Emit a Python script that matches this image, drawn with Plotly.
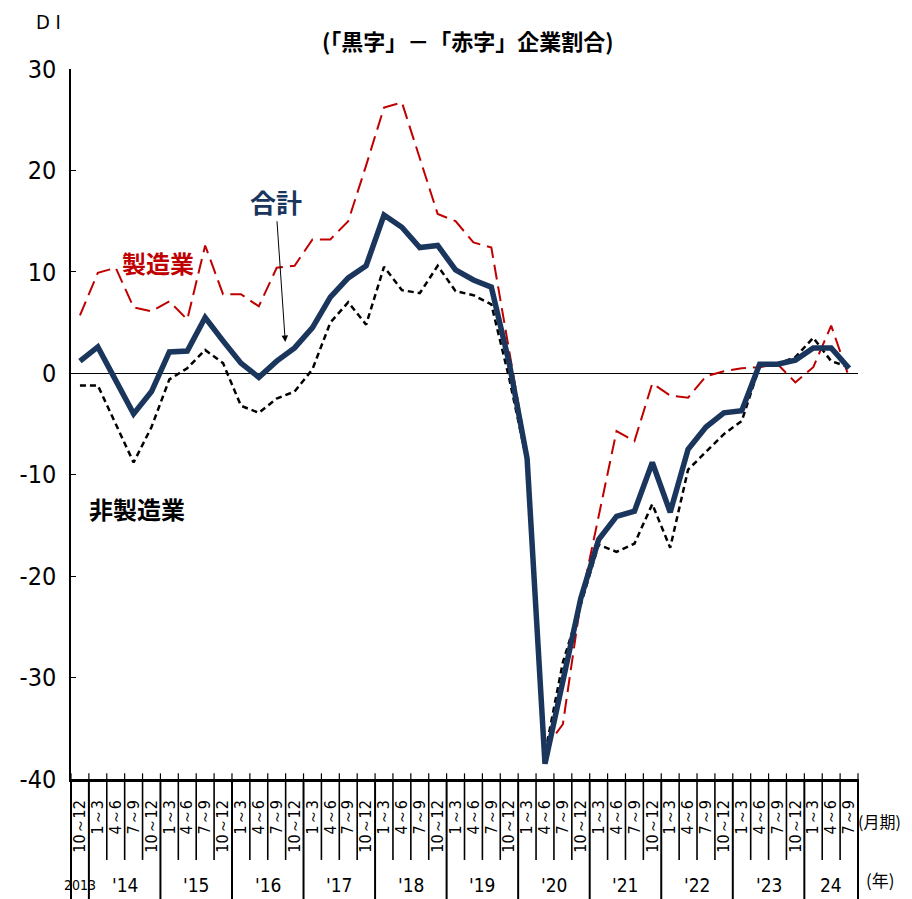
import plotly.graph_objects as go

# ---- data ----
quarters = ["10～12"] + ["1～3", "4～6", "7～9", "10～12"] * 10 + ["1～3", "4～6", "7～9"]
year_labels = ["2013", "'14", "'15", "'16", "'17", "'18", "'19", "'20", "'21", "'22", "'23", "24"]
year_counts = [1, 4, 4, 4, 4, 4, 4, 4, 4, 4, 4, 3]

total = [1.2, 2.6, -0.7, -4.0, -1.8, 2.1, 2.2, 5.5, 3.2, 1.0, -0.4, 1.2, 2.5, 4.5, 7.5,
         9.4, 10.6, 15.6, 14.4, 12.4, 12.6, 10.2, 9.2, 8.5, 1.0, -8.4, -38.5, -30.2,
         -22.2, -16.4, -14.1, -13.6, -8.8, -13.7, -7.5, -5.3, -3.9, -3.7, 0.9, 0.9,
         1.3, 2.5, 2.5, 0.5]
manufacturing = [5.7, 9.9, 10.4, 6.5, 6.1, 7.1, 5.3, 12.6, 7.8, 7.8, 6.6, 10.4, 10.6,
                 13.2, 13.2, 15.0, 20.5, 26.2, 26.7, 21.3, 15.7, 15.0, 12.9, 12.4, 2.0,
                 -8.0, -37.0, -34.6, -22.5, -14.0, -5.7, -6.7, -1.0, -2.2, -2.4, -0.3,
                 0.2, 0.5, 0.6, 0.9, -0.9, 0.6, 4.7, -0.4]
nonmanufacturing = [-1.2, -1.2, -5.0, -8.8, -5.3, -0.6, 0.5, 2.3, 1.0, -3.2, -3.9, -2.5,
                    -1.8, 0.4, 5.0, 7.0, 4.8, 10.5, 8.2, 7.9, 10.6, 8.1, 7.7, 6.8, -0.5,
                    -8.8, -37.5, -28.5, -22.8, -16.9, -17.6, -16.8, -12.9, -17.2, -9.5,
                    -7.8, -6.0, -4.7, 0.7, 0.9, 1.6, 3.5, 1.2, 0.6]
y_ticks = [-40, -30, -20, -10, 0, 10, 20, 30]

NARROW = "Liberation Sans Narrow, DejaVu Sans Condensed, Arial Narrow, Liberation Sans, sans-serif"
CJK = "Noto Sans CJK JP, Noto Sans, sans-serif"
NAVY = "#1B365D"
RED = "#C00000"

x = list(range(len(quarters)))

fig = go.Figure()
fig.add_trace(go.Scatter(x=x, y=nonmanufacturing, mode="lines", name="非製造業",
                         line=dict(color="black", width=2.5, dash="6px,4px")))
fig.add_trace(go.Scatter(x=x, y=manufacturing, mode="lines", name="製造業",
                         line=dict(color=RED, width=2, dash="15px,7px")))
fig.add_trace(go.Scatter(x=x, y=total, mode="lines", name="合計",
                         line=dict(color=NAVY, width=5.5)))

shapes = []
year_bounds = [0]
acc = 0
for c in year_counts:
    acc += c
    year_bounds.append(acc)
n = len(quarters)
for k in range(n + 1):
    is_year = k in year_bounds
    if k == 0 or k == n:
        xref, xv = "paper", (0 if k == 0 else 1)
    else:
        xref, xv = "x", k - 0.5
    shapes.append(dict(type="line", xref=xref, yref="paper", x0=xv, x1=xv, y0=0, y1=0.008,
                       line=dict(color="black", width=1.2)))
    shapes.append(dict(type="line", xref=xref, yref="paper", x0=xv, x1=xv, y0=0,
                       y1=(-0.175 if is_year else -0.114),
                       line=dict(color="black", width=(2 if is_year else 1.6))))

annotations = []
start = 0
for lab, c in zip(year_labels, year_counts):
    center = start + (c - 1) / 2
    annotations.append(dict(text=lab, x=center, xref="x", y=-0.149, yref="paper",
                            showarrow=False, xanchor="center", yanchor="middle",
                            font=dict(family=NARROW, size=(14 if lab == "2013" else 19), color="black")))
    start += c

annotations += [
    dict(text="<b>(「黒字」－「赤字」企業割合)</b>", xref="paper", yref="paper", x=0.504, y=1.041,
         showarrow=False, font=dict(family=CJK, size=22, color="black"), xanchor="center", yanchor="middle"),
    dict(text="D I", xref="paper", yref="paper", x=-0.028, y=1.066, showarrow=False,
         font=dict(family=NARROW, size=20, color="black"), xanchor="center", yanchor="middle"),
    dict(text="(月期)", xref="paper", yref="paper", x=1.0275, y=-0.059, showarrow=False,
         font=dict(family=CJK, size=16, color="black"), xanchor="center", yanchor="middle"),
    dict(text="(年)", xref="paper", yref="paper", x=1.029, y=-0.142, showarrow=False,
         font=dict(family=CJK, size=17, color="black"), xanchor="center", yanchor="middle"),
    dict(text="<b>製造業</b>", x=4.39, y=10.95, xref="x", yref="y", showarrow=False,
         font=dict(family=CJK, size=24, color=RED)),
    dict(text="<b>非製造業</b>", x=3.17, y=-13.3, xref="x", yref="y", showarrow=False,
         font=dict(family=CJK, size=24, color="black")),
    dict(text="<b>合計</b>", x=11.48, y=3.09, xref="x", yref="y",
         ax=10.94, ay=16.96, axref="x", ayref="y", showarrow=True,
         arrowhead=2, arrowsize=1.3, arrowwidth=1, arrowcolor="black", standoff=0,
         font=dict(family=CJK, size=26, color=NAVY)),
]

# the page body adds an 8px offset; size/margins compensate so the plot area lands at 66..858 x 69..779
fig.update_layout(
    width=904, height=891, autosize=False,
    margin=dict(l=58, r=54, t=61, b=120),
    paper_bgcolor="white", plot_bgcolor="white",
    showlegend=False,
    shapes=shapes, annotations=annotations,
    xaxis=dict(range=[-0.5, n - 0.5], tickmode="array", tickvals=x, ticktext=quarters,
               tickangle=-90, ticks="", showgrid=False, zeroline=False,
               showline=True, linecolor="black", linewidth=2.5,
               ticklabelstandoff=12,
               tickfont=dict(family=NARROW, size=16, color="black")),
    yaxis=dict(range=[-40, 30], tickmode="array", tickvals=y_ticks,
               ticktext=[str(v) for v in y_ticks],
               ticks="inside", ticklen=5, tickcolor="black", tickwidth=1.2,
               showgrid=False, zeroline=True, zerolinecolor="black", zerolinewidth=1,
               showline=True, linecolor="black", linewidth=1.5,
               ticklabelstandoff=8,
               tickfont=dict(family=NARROW, size=25, color="black")),
)

fig.write_html("out.html")
